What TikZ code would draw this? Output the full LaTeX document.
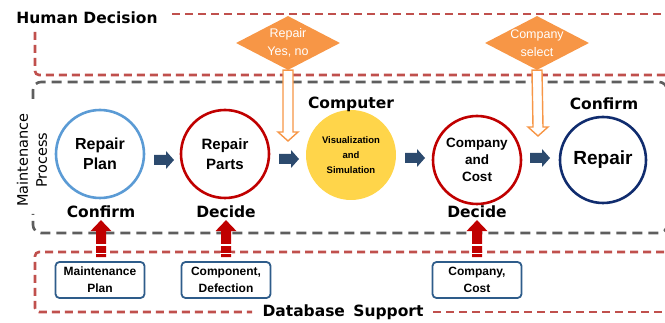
\documentclass[tikz,border=0pt]{standalone}
\usepackage{fontspec}
\setmainfont{DejaVu Sans}
\newfontfamily\arialish{Liberation Sans}
\usetikzlibrary{shapes.geometric,calc}
\definecolor{hdred}{HTML}{C0504D}
\definecolor{dgray}{HTML}{5E5E5E}
\definecolor{cblue}{HTML}{5B9BD5}
\definecolor{cred}{HTML}{C00000}
\definecolor{cyell}{HTML}{FFD54A}
\definecolor{cnavy}{HTML}{102C6E}
\definecolor{anavy}{HTML}{2C4A6E}
\definecolor{bnavy}{HTML}{2E5C8A}
\definecolor{corange}{HTML}{F79646}
\begin{document}
\begin{tikzpicture}[x=1pt,y=-1pt,
  reddash/.style={draw=hdred, line width=2.6pt, dash pattern=on 8pt off 5pt},
  graydash/.style={draw=dgray, line width=2.6pt, dash pattern=on 10pt off 6pt},
  proc/.style={circle, line width=2.6pt, minimum size=88pt, inner sep=0pt, align=center},
  heavy/.style={font=\fontsize{15.5}{18}\selectfont\bfseries, inner sep=1pt},
  dbbox/.style={draw=bnavy, line width=1.8pt, rounded corners=4pt, fill=white, minimum width=89pt, minimum height=36pt, align=center, inner sep=0pt, font=\arialish\fontsize{12}{17}\selectfont\bfseries},
  dmd/.style={diamond, fill=corange, minimum width=104pt, minimum height=54pt, inner sep=0pt},
  dmdtext/.style={text=white, align=center, font=\arialish\fontsize{12.5}{18}\selectfont},
  uparr/.pic={
    \fill[cred] (-5,37) -- (-5,11) -- (-10.5,11) -- (0,0) -- (10.5,11) -- (5,11) -- (5,37) -- cycle;
    \fill[white] (-6,23.5) rectangle (6,25.5);
    \fill[white] (-6,32.5) rectangle (6,34);
  },
  blk/.pic={
    \fill[anavy] (-10,-5) -- (2,-5) -- (2,-9) -- (10,0) -- (2,9) -- (2,5) -- (-10,5) -- cycle;
  }
]
\useasboundingbox (0,0) rectangle (665,323);
\clip (0,0) rectangle (665,323);

% Human decision region
\node[font=\fontsize{15.5}{18}\selectfont\bfseries] (hd) at (87,18) {Human Decision};
\draw[reddash] (172,14) -- (690,14);
\draw[reddash, rounded corners=4pt] (35,32) -- (35,75) -- (690,75);

% Maintenance process region
\draw[graydash, rounded corners=8pt] (33,99) -- (33,82) -- (667,82) -- (667,233) -- (33,233) -- (33,214);
\node[rotate=90, align=center, font=\fontsize{14.5}{19}\selectfont, fill=white, inner xsep=4pt, inner ysep=1pt] (mp) at (32,160) {Maintenance\\Process};

% Database region
\draw[reddash, rounded corners=4pt] (690,252) -- (35,252) -- (35,312) -- (252,312);
\draw[reddash] (433,312) -- (690,312);
\node[font=\fontsize{15.5}{18}\selectfont\bfseries] (ds) at (343,312) {Database\hspace{3pt} Support};

% process circles
\node[proc, draw=cblue, font=\arialish\fontsize{16}{20}\selectfont\bfseries] (c1) at (100,154) {Repair\\Plan};
\node[proc, draw=cred, font=\arialish\fontsize{15}{20}\selectfont\bfseries] (c2) at (225,154) {Repair\\Parts};
\node[proc, fill=cyell, minimum size=90pt, font=\arialish\fontsize{9.5}{15}\selectfont\bfseries] (c3) at (351,155) {Visualization\\and\\Simulation};
\node[proc, draw=cred, font=\arialish\fontsize{13.5}{17}\selectfont\bfseries] (c4) at (477,160) {Company\\and\\Cost};
\node[proc, draw=cnavy, minimum size=86pt, font=\arialish\fontsize{19}{20}\selectfont\bfseries] (c5) at (603,160) {Repair};

% labels
\node[heavy] (l3) at (351,104) {Computer};
\node[heavy] (l5) at (604,104) {Confirm};
\node[heavy] (l1) at (101,212) {Confirm};
\node[heavy] (l2) at (226,212) {Decide};
\node[heavy] (l4) at (477,212) {Decide};

% flow arrows
\pic at (164,160) {blk};
\pic at (289,159) {blk};
\pic at (415,158) {blk};
\pic at (540,158) {blk};

% decision diamonds
\node[dmd] (d1) at (288,43) {};
\node[dmdtext] (d1t) at (d1) {Repair\\Yes, no};
\node[dmd] (d2) at (537,43) {};
\node[dmdtext] (d2t) at (d2) {Company\\select};

\coordinate (t1) at (288,141);
\coordinate (t2) at (538,136);
\foreach \d/\t in {d1/t1, d2/t2}{
  \draw[corange, line width=1.4pt, fill=white, line join=miter]
    ($(\d.south)+(-5,0)$) -- ($(\t)+(-5,-9)$) -- ($(\t)+(-10,-9)$) -- (\t)
    -- ($(\t)+(10,-9)$) -- ($(\t)+(5,-9)$) -- ($(\d.south)+(5,0)$) -- cycle;
}

% database boxes
\node[dbbox] (m1) at (100,280) {Maintenance\\Plan};
\node[dbbox] (m2) at (226,280) {Component,\\Defection};
\node[dbbox] (m4) at (477,280) {Company,\\Cost};

\pic at ($(m1.north)+(1,-41)$) {uparr};
\pic at ($(m2.north)+(0,-41)$) {uparr};
\pic at ($(m4.north)+(0,-41)$) {uparr};
\end{tikzpicture}
\end{document}
